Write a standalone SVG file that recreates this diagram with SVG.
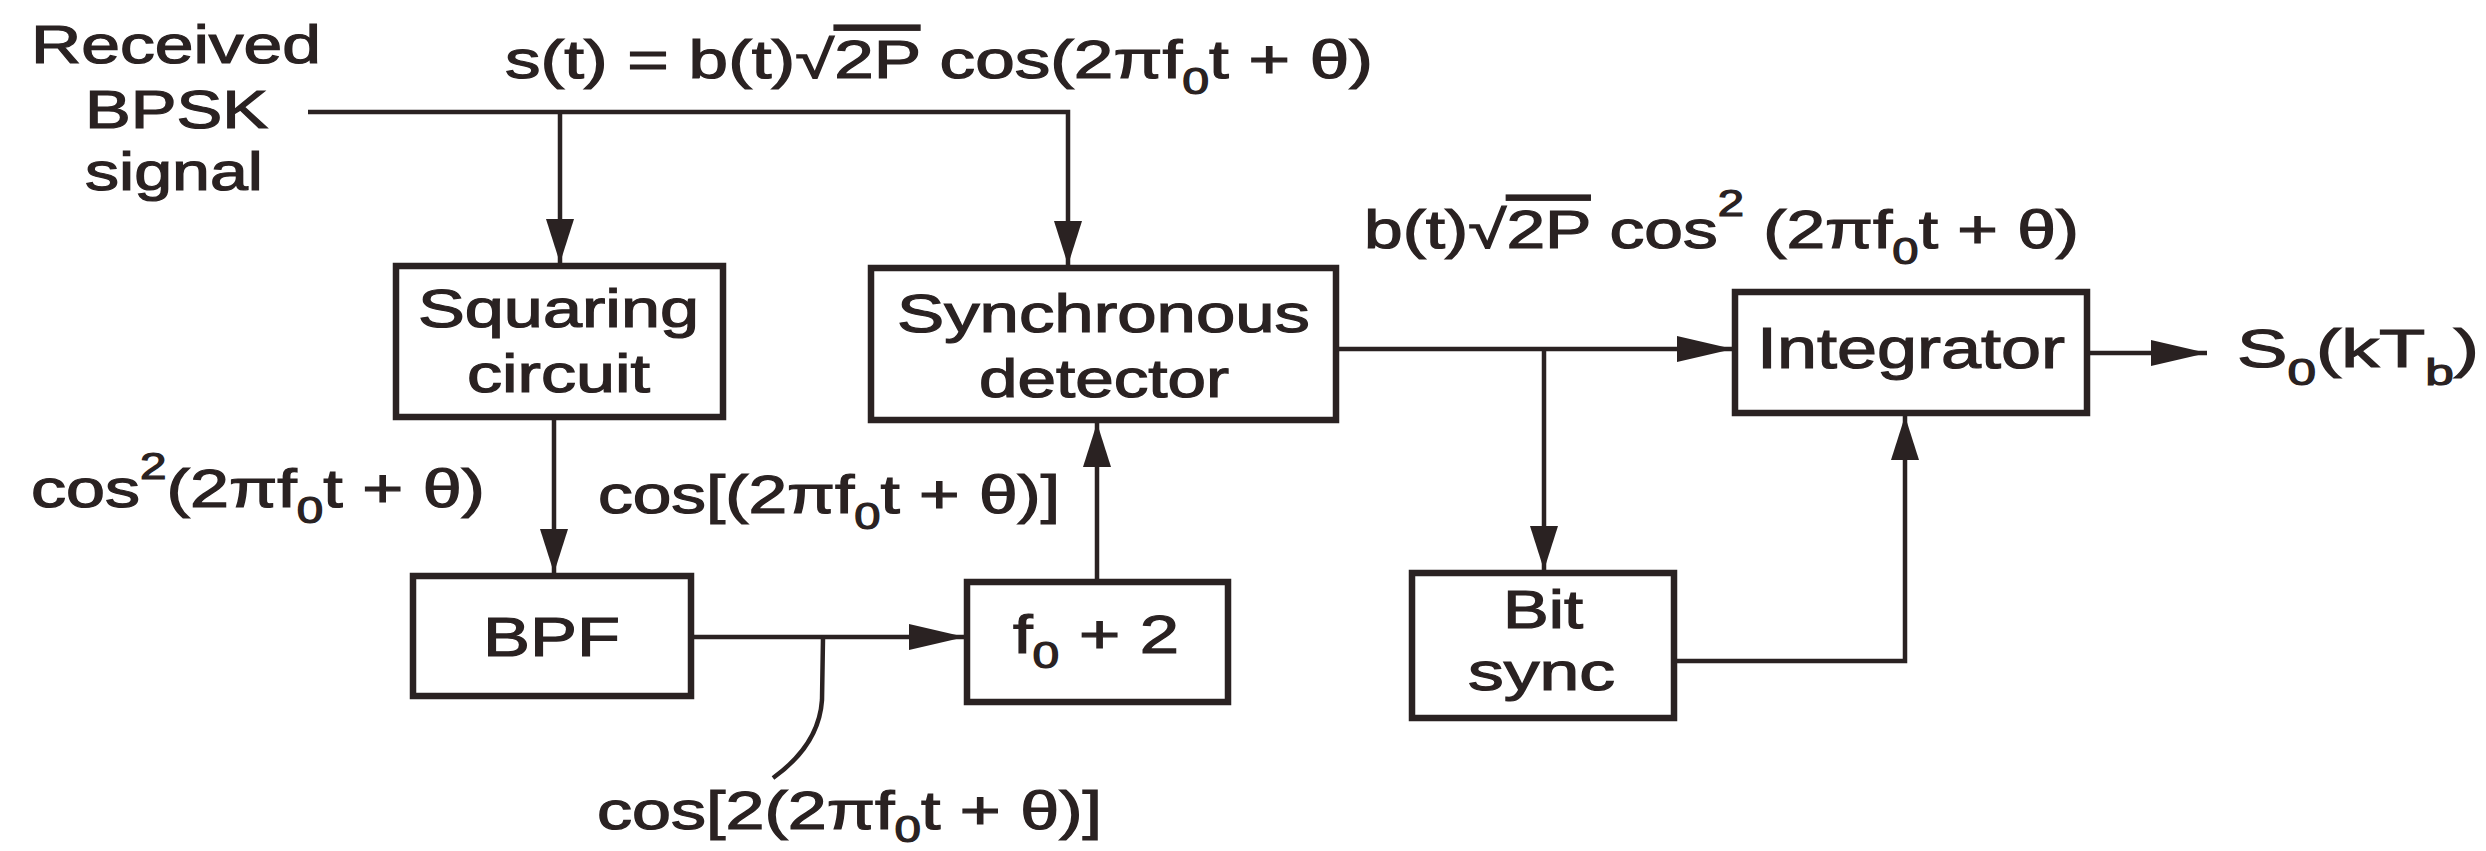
<svg xmlns="http://www.w3.org/2000/svg" width="2486" height="851" viewBox="0 0 2486 851">
<style>
text{font-family:"Liberation Sans",Arial,sans-serif;font-size:53px;fill:#2a2222;stroke:#2a2222;stroke-width:1.2}
.sub{font-size:36px}
.sup{font-size:36px}
.box{fill:none;stroke:#2a2222;stroke-width:6.5}
.ln{fill:none;stroke:#2a2222;stroke-width:4.5}
.ov{text-decoration:overline}
</style>
<defs>
<marker id="ah" markerUnits="userSpaceOnUse" markerWidth="57" markerHeight="26" refX="56" refY="13" orient="auto"><path d="M0,0 L56,13 L0,26 z" fill="#2a2222"/></marker>
<marker id="av" markerUnits="userSpaceOnUse" markerWidth="45" markerHeight="28" refX="44" refY="14" orient="auto"><path d="M0,0 L44,14 L0,28 z" fill="#2a2222"/></marker>
</defs>
<rect width="2486" height="851" fill="#ffffff"/>

<g id="input-label">
<text x="31" y="63" textLength="290" lengthAdjust="spacingAndGlyphs">Received</text>
<text x="85" y="128" textLength="183" lengthAdjust="spacingAndGlyphs">BPSK</text>
<text x="85" y="190" textLength="178" lengthAdjust="spacingAndGlyphs">signal</text>
</g>

<g id="labels">
<text x="505" y="78" textLength="868" lengthAdjust="spacingAndGlyphs">s(t) = b(t)√<tspan class="ov">2P</tspan> cos(2πf<tspan class="sub" dy="16">0</tspan><tspan dy="-16">t + θ)</tspan></text>
<text x="1364" y="248" textLength="715" lengthAdjust="spacingAndGlyphs">b(t)√<tspan class="ov">2P</tspan> cos<tspan class="sup" dy="-32">2</tspan><tspan dy="32"> (2πf</tspan><tspan class="sub" dy="16">0</tspan><tspan dy="-16">t + θ)</tspan></text>
<text x="31" y="507" textLength="454" lengthAdjust="spacingAndGlyphs">cos<tspan class="sup" dy="-28">2</tspan><tspan dy="28">(2πf</tspan><tspan class="sub" dy="16">0</tspan><tspan dy="-16">t + θ)</tspan></text>
<text x="598" y="513" textLength="462" lengthAdjust="spacingAndGlyphs">cos[(2πf<tspan class="sub" dy="16">0</tspan><tspan dy="-16">t + θ)]</tspan></text>
<text x="597" y="829" textLength="505" lengthAdjust="spacingAndGlyphs">cos[2(2πf<tspan class="sub" dy="13">0</tspan><tspan dy="-13">t + θ)]</tspan></text>
<text x="2237" y="367" textLength="242" lengthAdjust="spacingAndGlyphs">S<tspan class="sub" dy="18">0</tspan><tspan dy="-18">(kT</tspan><tspan class="sub" dy="18">b</tspan><tspan dy="-18">)</tspan></text>
</g>

<g id="squaring">
<rect class="box" x="396" y="266" width="327" height="151"/>
<text x="418" y="327" textLength="281" lengthAdjust="spacingAndGlyphs">Squaring</text>
<text x="467" y="392" textLength="183" lengthAdjust="spacingAndGlyphs">circuit</text>
</g>

<g id="sync-detector">
<rect class="box" x="871" y="268" width="465" height="152"/>
<text x="897" y="332" textLength="413" lengthAdjust="spacingAndGlyphs">Synchronous</text>
<text x="979" y="397" textLength="250" lengthAdjust="spacingAndGlyphs">detector</text>
</g>

<g id="integrator">
<rect class="box" x="1735" y="292" width="352" height="121"/>
<text x="1757" y="368" textLength="308" lengthAdjust="spacingAndGlyphs" style="font-size:58px">Integrator</text>
</g>

<g id="bpf">
<rect class="box" x="413" y="576" width="278" height="120"/>
<text x="483" y="656" textLength="137" lengthAdjust="spacingAndGlyphs" style="font-size:56px">BPF</text>
</g>

<g id="divider">
<rect class="box" x="967" y="582" width="261" height="120"/>
<text x="1013" y="653" textLength="166" lengthAdjust="spacingAndGlyphs">f<tspan class="sub" dy="15">0</tspan><tspan dy="-15"> + 2</tspan></text>
</g>

<g id="bit-sync">
<rect class="box" x="1412" y="573" width="262" height="145"/>
<text x="1503" y="628" textLength="80" lengthAdjust="spacingAndGlyphs">Bit</text>
<text x="1468" y="690" textLength="147" lengthAdjust="spacingAndGlyphs">sync</text>
</g>

<g id="connectors">
<path class="ln" d="M308,112 H1068 V265" marker-end="url(#av)"/>
<path class="ln" d="M560,112 V263" marker-end="url(#av)"/>
<path class="ln" d="M554,417 V573" marker-end="url(#av)"/>
<path class="ln" d="M691,637 H965" marker-end="url(#ah)"/>
<path class="ln" d="M1097,582 V423" marker-end="url(#av)"/>
<path class="ln" d="M1336,349 H1733" marker-end="url(#ah)"/>
<path class="ln" d="M1544,349 V570" marker-end="url(#av)"/>
<path class="ln" d="M1674,661 H1905 V416" marker-end="url(#av)"/>
<path class="ln" d="M2087,353 H2207" marker-end="url(#ah)"/>
<path class="ln" d="M823,638 L822,700 Q819,745 773,778"/>
</g>
</svg>
